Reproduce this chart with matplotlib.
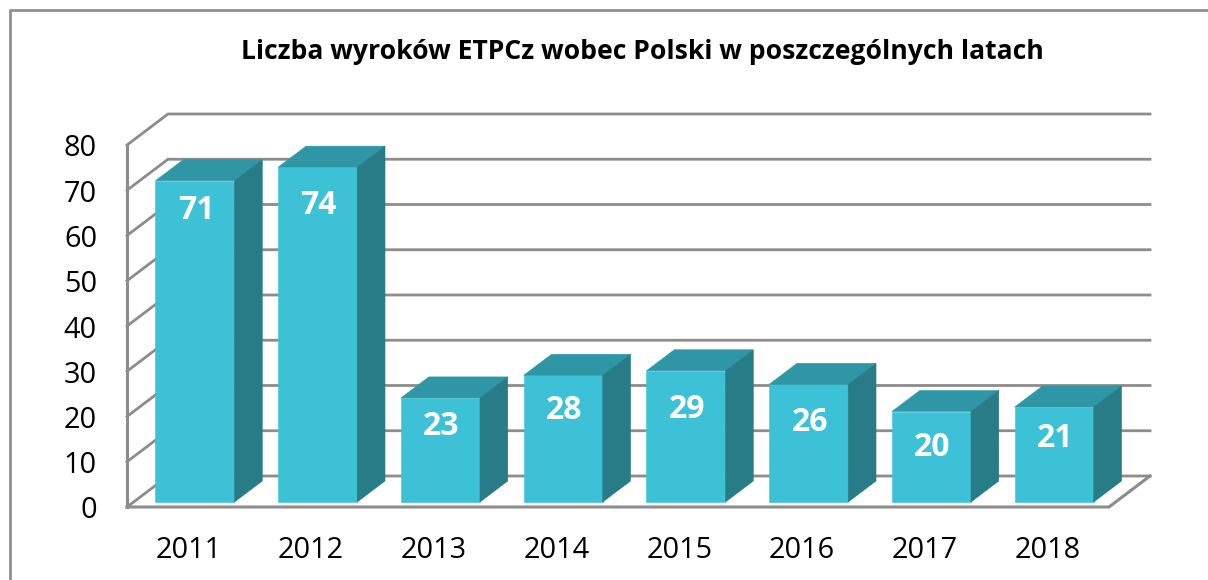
import matplotlib
matplotlib.use("Agg")
import matplotlib.pyplot as plt
from matplotlib.patches import Polygon

W, H = 1208, 580
years = ["2011", "2012", "2013", "2014", "2015", "2016", "2017", "2018"]
counts = [71, 74, 23, 28, 29, 26, 20, 21]
y_ticks = [0, 10, 20, 30, 40, 50, 60, 70, 80]
title = "Liczba wyroków ETPCz wobec Polski w poszczególnych latach"
# how far each value label sits below the top front edge of its bar, in pixels
label_drop = [30, 38, 29, 35, 39, 38, 36, 32]

GRID = "#8c8c8c"
FRONT, TOP, SIDE = "#3dc1d6", "#2f96a6", "#287c88"

plt.rcParams["font.family"] = ["Open Sans", "DejaVu Sans"]

fig = plt.figure(figsize=(W / 100, H / 100), dpi=100, facecolor="white")

# full-figure pixel overlay for the frame
bg = fig.add_axes([0, 0, 1, 1])
bg.set_xlim(0, W); bg.set_ylim(H, 0); bg.axis("off")
bg.plot([10, 10, W + 5], [H + 5, 10, 10], color="#8f8f8f", lw=2, clip_on=False)

# front plane of the chart box: x categories, y values
left, right, y0, y80 = 127, 1109, 507, 145
ax = fig.add_axes([left / W, 1 - y0 / H, (right - left) / W, (y0 - y80) / H])
ax.set_xlim(-0.5, len(years) - 0.5)
ax.set_ylim(0, 80)
ax.axis("off")

ux = (right - left) / len(years)      # pixels per category
uy = (y0 - y80) / 80                  # pixels per value
DX, DY = 41 / ux, 31 / uy             # depth vector of the box, in data units


def P(x, y, z):
    """Project (category, value, depth 0..1) on to the front plane."""
    return (x + z * DX, y + z * DY)


# walls and gridlines
for t in y_ticks:
    ax.plot(*zip(P(-0.5, t, 0), P(-0.5, t, 1), P(len(years) - 0.5, t, 1)),
            color=GRID, lw=2, clip_on=False, zorder=1, solid_joinstyle="miter")
ax.plot(*zip(P(-0.5, 0, 0), P(-0.5, 80, 0)), color=GRID, lw=2.2, clip_on=False, zorder=1)
ax.plot(*zip(P(-0.5, 0, 0), P(len(years) - 0.5, 0, 0), P(len(years) - 0.5, 0, 1)),
        color=GRID, lw=2.2, clip_on=False, zorder=1)

bw = 79 / ux
z0, z1 = 5 / 31, (5 + 21) / 31
for i, v in enumerate(counts):
    c = float(i)
    xl, xr = c - bw / 2, c + bw / 2
    ax.add_patch(Polygon([P(xl, 0, z0), P(xr, 0, z0), P(xr, v, z0), P(xl, v, z0)],
                         fc=FRONT, ec=FRONT, lw=0.4, clip_on=False, zorder=3))
    ax.add_patch(Polygon([P(xl, v, z0), P(xr, v, z0), P(xr, v, z1), P(xl, v, z1)],
                         fc=TOP, ec=TOP, lw=0.4, clip_on=False, zorder=3))
    ax.add_patch(Polygon([P(xr, 0, z0), P(xr, 0, z1), P(xr, v, z1), P(xr, v, z0)],
                         fc=SIDE, ec=SIDE, lw=0.4, clip_on=False, zorder=3))
    lx, ly = P(c, v, z0)
    ax.annotate(str(v), (lx, ly), xytext=(1, -label_drop[i]), textcoords="offset pixels",
                ha="center", va="center", color="white", fontsize=23,
                fontweight="bold", zorder=4, annotation_clip=False)
    ax.annotate(years[i], (c, 0), xytext=(0, -44), textcoords="offset pixels",
                ha="center", va="center", color="black", fontsize=20.8,
                annotation_clip=False)

for t in y_ticks:
    ax.annotate(str(t), (-0.5, t), xytext=(-30, -4), textcoords="offset pixels",
                ha="right", va="center", color="black", fontsize=20.8,
                annotation_clip=False)

bg.text(642, 52, title, ha="center", va="center", fontsize=19.1, fontweight="bold", color="black")

fig.savefig("out.png", dpi=100, facecolor="white")
